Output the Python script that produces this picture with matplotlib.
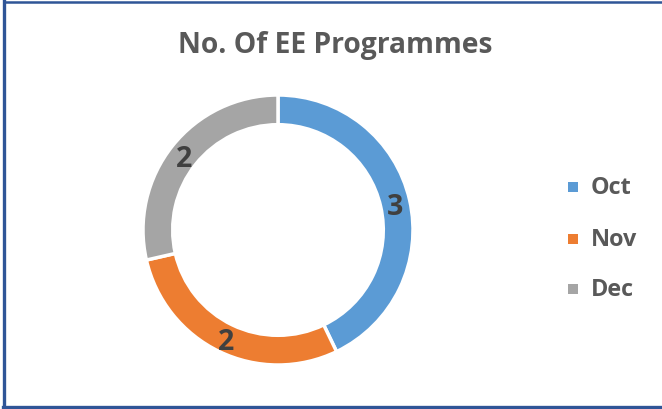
import math
import matplotlib
matplotlib.use("Agg")
import matplotlib.pyplot as plt
from matplotlib.lines import Line2D
from matplotlib.patches import Rectangle

months = ["Oct", "Nov", "Dec"]
programmes = [3, 2, 2]
colors = ["#5B9BD5", "#ED7D31", "#A5A5A5"]

plt.rcParams["font.family"] = ["Open Sans", "DejaVu Sans"]

W, H = 662, 410
fig = plt.figure(figsize=(W / 100, H / 100), dpi=100)
fig.patch.set_facecolor("white")

# donut area: centre (278, 231), outer radius 135 px
cx, cy, r = 278, 231, 135
ax = fig.add_axes([(cx - r) / W, 1 - (cy + r) / H, 2 * r / W, 2 * r / H])
ring = 0.22
ax.pie(
    programmes,
    colors=colors,
    startangle=90,
    counterclock=False,
    radius=1.0,
    wedgeprops=dict(width=ring, edgecolor="white", linewidth=2.5),
)
ax.set_xlim(-1, 1)
ax.set_ylim(-1, 1)
ax.set_aspect("equal")

# value labels at the middle of the ring
total = sum(programmes)
start = 90.0
for v in programmes:
    sweep = v / total * 360
    mid = math.radians(start - sweep / 2)
    rr = 1 - ring / 2
    ax.text(rr * math.cos(mid), rr * math.sin(mid) - 0.025, str(v),
            ha="center", va="center", fontsize=20.5, fontweight="bold",
            color="#404040")
    start -= sweep

fig.text(335 / W, 1 - 46 / H, "No. Of EE Programmes", ha="center", va="center",
         fontsize=20.3, fontweight="bold", color="#595959")

# legend
legend_y = [188, 240, 290]
for name, col, y in zip(months, colors, legend_y):
    fig.patches.append(Rectangle(((573 - 5) / W, 1 - (y + 5) / H), 10 / W, 10 / H,
                                 transform=fig.transFigure, facecolor=col,
                                 edgecolor="none"))
    fig.text(591 / W, 1 - y / H, name, ha="left", va="center",
             fontsize=16.8, fontweight="bold", color="#595959")

# frame lines (top, left, bottom)
bc = "#2F5597"
fig.lines.append(Line2D([4 / W, 1], [1 - 3 / H, 1 - 3 / H], transform=fig.transFigure,
                        color=bc, linewidth=1.8))
fig.lines.append(Line2D([4 / W, 4 / W], [1 - 2 / H, 1 - 408 / H], transform=fig.transFigure,
                        color=bc, linewidth=2.4))
fig.lines.append(Line2D([3 / W, 1], [1 - 408 / H, 1 - 408 / H], transform=fig.transFigure,
                        color=bc, linewidth=2.4))

fig.savefig("out.png", dpi=100)
